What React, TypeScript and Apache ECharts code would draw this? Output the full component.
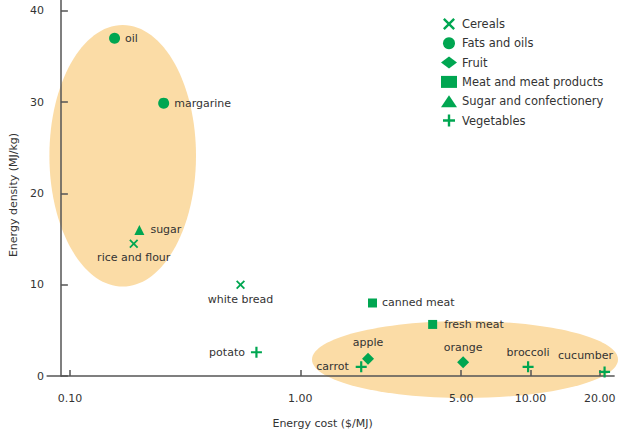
import React, { useEffect, useRef } from "react";
import * as echarts from "echarts";

// ---- data ----
const categories = [
  "Cereals",
  "Fats and oils",
  "Fruit",
  "Meat and meat products",
  "Sugar and confectionery",
  "Vegetables",
];

const cerealFoods = ["rice and flour", "white bread"];
const cerealCost = [0.189, 0.55];
const cerealDensity = [14.5, 10.0];

const fatFoods = ["oil", "margarine"];
const fatCost = [0.156, 0.255];
const fatDensity = [37.0, 29.9];

const fruitFoods = ["apple", "orange"];
const fruitCost = [1.97, 5.1];
const fruitDensity = [1.9, 1.5];

const meatFoods = ["canned meat", "fresh meat"];
const meatCost = [2.06, 3.76];
const meatDensity = [8.0, 5.65];

const sugarFoods = ["sugar"];
const sugarCost = [0.2];
const sugarDensity = [16.0];

const vegFoods = ["potato", "carrot", "broccoli", "cucumber"];
const vegCost = [0.645, 1.84, 9.77, 21.0];
const vegDensity = [2.6, 1.0, 1.0, 0.45];

const xTickValues = [0.1, 1, 5, 10, 20];
const yTickValues = [0, 10, 20, 30, 40];

// ---- styling ----
const GREEN = "#00A651";
const TEXT = "#333333";
const AXIS = "#555555";
const HILITE = "#FBDCA6";
const FONT = "DejaVu Sans";

const PLUS = "path://M4,0H6V4H10V6H6V10H4V6H0V4H4Z";
const CROSS =
  "path://M0,1.4L1.4,0L5,3.6L8.6,0L10,1.4L6.4,5L10,8.6L8.6,10L5,6.4L1.4,10L0,8.6L3.6,5Z";

const labelStyle: Record<string, any> = {
  oil: { position: "right", distance: 5 },
  margarine: { position: "right", distance: 5 },
  sugar: { position: "right", distance: 6 },
  "rice and flour": { position: "bottom", distance: 4 },
  "white bread": { position: "bottom", distance: 5 },
  potato: { position: "left", distance: 6 },
  "canned meat": { position: "right", distance: 5 },
  "fresh meat": { position: "right", distance: 7 },
  apple: { position: "top", distance: 5 },
  carrot: { position: "left", distance: 7 },
  orange: { position: "top", distance: 3 },
  broccoli: { position: "top", distance: 3 },
  cucumber: { position: "top", distance: 5, offset: [-19, 0] },
};

function buildData(names: string[], xs: number[], ys: number[]) {
  return names.map((n, i) => ({
    name: n,
    value: [xs[i], ys[i]],
    label: {
      show: true,
      formatter: n,
      color: TEXT,
      fontSize: 11,
      fontFamily: FONT,
      ...labelStyle[n],
    },
  }));
}

const seriesDefs = [
  { symbol: CROSS, size: 9, data: buildData(cerealFoods, cerealCost, cerealDensity) },
  { symbol: "circle", size: 11, data: buildData(fatFoods, fatCost, fatDensity) },
  { symbol: "diamond", size: 12, data: buildData(fruitFoods, fruitCost, fruitDensity) },
  { symbol: "rect", size: 9, data: buildData(meatFoods, meatCost, meatDensity) },
  { symbol: "triangle", size: 10, data: buildData(sugarFoods, sugarCost, sugarDensity) },
  { symbol: PLUS, size: 11, data: buildData(vegFoods, vegCost, vegDensity) },
];

export default function App() {
  const ref = useRef<HTMLDivElement>(null);

  useEffect(() => {
    if (!ref.current) return;
    const chart = echarts.init(ref.current, undefined, { renderer: "svg" });
    const option: any = {
      animation: false,
      backgroundColor: "#ffffff",
      textStyle: { fontFamily: FONT },
      grid: { left: 39.7, right: 5.9, top: 0, bottom: 57.3, containLabel: false },
      legend: {
        orient: "vertical",
        left: 436,
        top: 13,
        itemWidth: 16,
        itemHeight: 12,
        itemGap: 7.3,
        textStyle: { color: TEXT, fontSize: 11.5, fontFamily: FONT },
        data: categories,
      },
      xAxis: {
        type: "log",
        logBase: 10,
        min: Math.pow(10, -1.1),
        max: 23.1,
        name: "Energy cost ($/MJ)",
        nameLocation: "middle",
        nameGap: 42,
        nameTextStyle: { color: TEXT, fontSize: 11, fontFamily: FONT, padding: [0, 16, 0, 0] },
        axisLine: { show: true, onZero: false, lineStyle: { color: AXIS, width: 1.5 } },
        axisTick: {
          show: true,
          inside: true,
          length: 6,
          customValues: xTickValues,
          lineStyle: { color: AXIS, width: 1.5 },
        },
        axisLabel: {
          customValues: xTickValues,
          formatter: (v: number) => Number(v).toFixed(2),
          margin: 17,
          color: TEXT,
          fontSize: 11,
          fontFamily: FONT,
        },
        splitLine: { show: false },
        minorTick: { show: false },
      },
      yAxis: {
        type: "value",
        min: 0,
        max: 41.2,
        offset: -13.8,
        name: "Energy density (MJ/kg)",
        nameLocation: "middle",
        nameGap: 40,
        nameTextStyle: { color: TEXT, fontSize: 11, fontFamily: FONT, padding: [0, 14, 0, 0] },
        axisLine: { show: true, lineStyle: { color: AXIS, width: 1.5 } },
        axisTick: {
          show: true,
          inside: true,
          length: 7,
          customValues: yTickValues,
          lineStyle: { color: AXIS, width: 1.5 },
        },
        axisLabel: {
          customValues: yTickValues,
          margin: 17,
          color: TEXT,
          fontSize: 11,
          fontFamily: FONT,
        },
        splitLine: { show: false },
      },
      graphic: [
        {
          type: "ellipse",
          z: -10,
          silent: true,
          shape: { cx: 122.7, cy: 155.8, rx: 73.3, ry: 130.8 },
          style: { fill: HILITE },
        },
        {
          type: "ellipse",
          z: -10,
          silent: true,
          shape: { cx: 465, cy: 359.5, rx: 153, ry: 38.5 },
          style: { fill: HILITE },
        },
      ],
      series: seriesDefs.map((s, i) => ({
        name: categories[i],
        type: "scatter",
        symbol: s.symbol,
        symbolSize: s.size,
        itemStyle: { color: GREEN, opacity: 1 },
        data: s.data,
        z: 5,
      })),
    };
    chart.setOption(option);
    return () => chart.dispose();
  }, []);

  return (
    <div
      ref={ref}
      style={{ position: "absolute", left: 0, top: 0, width: 620, height: 434 }}
    />
  );
}
